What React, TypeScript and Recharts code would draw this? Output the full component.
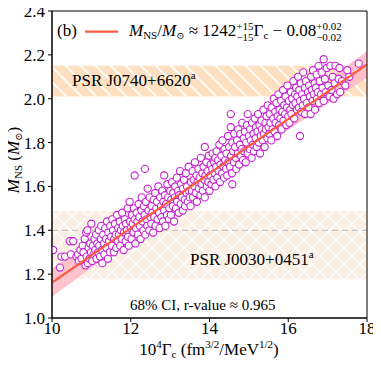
import React from "react";
import {
  ComposedChart,
  XAxis,
  YAxis,
  Scatter,
  Line,
  Area,
  ReferenceArea,
  ReferenceLine,
} from "recharts";

// ---------- data ----------
const xTicks = [10, 12, 14, 16, 18];
const yTicks = [1.0, 1.2, 1.4, 1.6, 1.8, 2.0, 2.2, 2.4];

// fit line  M = 1242 Γc − 0.08  (Γc in 1e-4 units)
const fitGamma = [10, 18];
const fitMass = [1.162, 2.156];

// 68% confidence band
const bandGamma = [10, 12, 14, 16, 18];
const bandLow = [1.097, 1.36, 1.614, 1.857, 2.096];
const bandHigh = [1.227, 1.46, 1.704, 1.957, 2.216];

// pulsar constraints
const psrJ0740 = [2.01, 2.15];
const psrJ0030 = [1.177, 1.488];
const canonicalMass = 1.4;

// scatter points [10^4 Γc, M_NS]
const scatterPoints: [number, number][] = [
  [10.03, 1.31], [10.2, 1.23], [10.24, 1.28], [10.33, 1.28], [10.45, 1.35], [10.48, 1.29], [10.54, 1.35],
  [10.62, 1.28], [10.66, 1.29], [10.68, 1.26], [10.72, 1.31], [10.75, 1.27], [10.78, 1.33], [10.8, 1.3],
  [10.83, 1.36], [10.85, 1.24], [10.87, 1.39], [10.88, 1.28], [10.9, 1.4], [10.91, 1.25], [10.93, 1.32],
  [10.95, 1.27], [10.97, 1.34], [10.99, 1.3], [11.0, 1.43],
  [11.02, 1.26], [11.04, 1.33], [11.06, 1.29], [11.08, 1.36], [11.1, 1.31], [11.12, 1.38], [11.13, 1.27],
  [11.15, 1.34], [11.17, 1.3], [11.19, 1.4], [11.2, 1.33], [11.22, 1.28], [11.24, 1.36], [11.25, 1.42],
  [11.27, 1.31], [11.28, 1.25], [11.3, 1.38], [11.32, 1.34], [11.33, 1.29], [11.35, 1.41], [11.37, 1.36],
  [11.38, 1.32], [11.4, 1.44], [11.42, 1.27], [11.43, 1.39], [11.45, 1.35], [11.47, 1.3], [11.48, 1.42], [11.5, 1.37],
  [11.52, 1.33], [11.53, 1.45], [11.55, 1.4], [11.57, 1.3], [11.58, 1.36], [11.6, 1.43], [11.62, 1.38],
  [11.63, 1.32], [11.65, 1.47], [11.67, 1.35], [11.68, 1.41], [11.7, 1.38], [11.72, 1.44], [11.73, 1.33],
  [11.75, 1.4], [11.77, 1.36], [11.78, 1.48], [11.8, 1.42], [11.82, 1.31], [11.83, 1.39], [11.85, 1.45],
  [11.87, 1.35], [11.88, 1.43], [11.9, 1.4], [11.92, 1.5], [11.93, 1.37], [11.95, 1.33], [11.97, 1.53],
  [11.98, 1.44], [12.0, 1.41],
  [12.02, 1.36], [12.03, 1.47], [12.05, 1.43], [12.07, 1.39], [12.08, 1.5], [12.1, 1.65], [12.1, 1.45],
  [12.12, 1.34], [12.13, 1.41], [12.15, 1.48], [12.17, 1.44], [12.18, 1.38], [12.2, 1.52], [12.22, 1.46],
  [12.23, 1.42], [12.25, 1.36], [12.27, 1.49], [12.28, 1.55], [12.3, 1.44], [12.32, 1.4], [12.33, 1.51],
  [12.35, 1.47], [12.36, 1.68], [12.37, 1.38], [12.38, 1.53], [12.4, 1.45], [12.42, 1.42], [12.43, 1.59],
  [12.45, 1.49], [12.47, 1.4], [12.48, 1.55], [12.5, 1.46],
  [12.52, 1.43], [12.53, 1.51], [12.55, 1.48], [12.57, 1.39], [12.58, 1.54], [12.6, 1.46], [12.62, 1.57],
  [12.63, 1.42], [12.65, 1.5], [12.67, 1.53], [12.68, 1.45], [12.7, 1.6], [12.72, 1.48], [12.73, 1.41],
  [12.75, 1.55], [12.77, 1.51], [12.78, 1.46], [12.8, 1.58], [12.82, 1.44], [12.83, 1.53], [12.85, 1.65],
  [12.85, 1.49], [12.87, 1.56], [12.88, 1.42], [12.9, 1.52], [12.92, 1.47], [12.93, 1.61], [12.95, 1.55],
  [12.97, 1.45], [12.98, 1.5], [13.0, 1.58],
  [13.02, 1.47], [13.03, 1.54], [13.05, 1.62], [13.07, 1.51], [13.08, 1.57], [13.1, 1.44], [13.12, 1.55],
  [13.13, 1.6], [13.15, 1.5], [13.17, 1.64], [13.18, 1.53], [13.2, 1.58], [13.22, 1.48], [13.23, 1.56],
  [13.25, 1.67], [13.27, 1.52], [13.28, 1.61], [13.3, 1.55], [13.32, 1.49], [13.33, 1.59], [13.35, 1.63],
  [13.37, 1.54], [13.38, 1.51], [13.4, 1.66], [13.42, 1.57], [13.43, 1.6], [13.45, 1.53], [13.47, 1.69],
  [13.48, 1.58], [13.5, 1.55],
  [13.52, 1.51], [13.53, 1.62], [13.55, 1.58], [13.57, 1.67], [13.58, 1.55], [13.6, 1.63], [13.62, 1.6],
  [13.63, 1.71], [13.65, 1.57], [13.67, 1.65], [13.68, 1.53], [13.7, 1.62], [13.72, 1.68], [13.73, 1.59],
  [13.75, 1.64], [13.77, 1.56], [13.78, 1.73], [13.8, 1.61], [13.82, 1.66], [13.83, 1.58], [13.85, 1.69],
  [13.87, 1.63], [13.88, 1.78], [13.88, 1.55], [13.9, 1.65], [13.92, 1.71], [13.93, 1.6], [13.95, 1.67],
  [13.97, 1.62], [13.98, 1.74], [14.0, 1.58],
  [14.02, 1.65], [14.03, 1.7], [14.05, 1.61], [14.07, 1.68], [14.08, 1.75], [14.1, 1.63], [14.12, 1.71],
  [14.13, 1.66], [14.15, 1.73], [14.15, 1.6], [14.17, 1.69], [14.18, 1.76], [14.2, 1.64], [14.22, 1.72],
  [14.23, 1.67], [14.25, 1.79], [14.27, 1.62], [14.28, 1.7], [14.3, 1.74], [14.32, 1.66], [14.33, 1.81],
  [14.35, 1.69], [14.37, 1.64], [14.38, 1.77], [14.4, 1.72], [14.42, 1.68], [14.43, 1.75], [14.45, 1.65],
  [14.47, 1.83], [14.48, 1.71], [14.5, 1.78],
  [14.52, 1.69], [14.54, 1.93], [14.54, 1.87], [14.55, 1.74], [14.57, 1.66], [14.58, 1.61], [14.58, 1.8],
  [14.6, 1.76], [14.62, 1.71], [14.63, 1.84], [14.65, 1.78], [14.67, 1.73], [14.68, 1.68], [14.7, 1.81],
  [14.72, 1.75], [14.73, 1.86], [14.75, 1.7], [14.77, 1.79], [14.78, 1.84], [14.8, 1.74], [14.82, 1.77],
  [14.83, 1.89], [14.85, 1.72], [14.87, 1.82], [14.88, 1.76], [14.9, 1.85], [14.92, 1.71], [14.93, 1.8],
  [14.95, 1.88], [14.97, 1.93], [14.97, 1.75], [15.0, 1.83],
  [15.02, 1.77], [15.03, 1.86], [15.05, 1.81], [15.07, 1.73], [15.08, 1.89], [15.1, 1.79], [15.12, 1.84],
  [15.13, 1.76], [15.15, 1.91], [15.17, 1.82], [15.18, 1.87], [15.2, 1.78], [15.22, 1.85], [15.23, 1.93],
  [15.25, 1.8], [15.27, 1.88], [15.28, 1.75], [15.3, 1.83], [15.32, 1.9], [15.33, 1.86], [15.35, 1.81],
  [15.37, 1.95], [15.38, 1.84], [15.4, 1.78], [15.42, 1.89], [15.43, 1.86], [15.45, 1.92], [15.47, 1.82],
  [15.48, 1.97], [15.5, 1.87],
  [15.52, 1.84], [15.53, 1.93], [15.55, 1.89], [15.57, 1.81], [15.58, 1.96], [15.6, 1.86], [15.62, 1.91],
  [15.63, 2.0], [15.65, 1.85], [15.67, 1.94], [15.68, 1.89], [15.7, 1.98], [15.72, 1.83], [15.73, 1.92],
  [15.75, 2.02], [15.77, 1.88], [15.78, 1.95], [15.8, 1.91], [15.82, 1.99], [15.83, 1.86], [15.85, 1.94],
  [15.87, 2.04], [15.88, 1.9], [15.9, 1.97], [15.92, 1.93], [15.93, 2.01], [15.95, 1.88], [15.97, 1.96],
  [15.98, 2.06], [16.0, 1.92],
  [16.02, 1.99], [16.03, 1.89], [16.05, 1.95], [16.07, 2.03], [16.08, 1.93], [16.1, 2.0], [16.12, 1.97],
  [16.13, 2.08], [16.15, 1.91], [16.17, 2.02], [16.18, 1.98], [16.2, 2.05], [16.22, 1.95], [16.23, 2.01],
  [16.25, 2.1], [16.27, 1.96], [16.28, 2.04], [16.3, 1.83], [16.3, 1.99], [16.32, 2.07], [16.33, 1.94],
  [16.35, 2.02], [16.37, 1.97], [16.38, 2.12], [16.4, 2.0], [16.42, 2.05], [16.43, 1.93], [16.45, 2.08],
  [16.47, 1.98], [16.5, 2.03],
  [16.52, 1.96], [16.53, 2.06], [16.55, 2.01], [16.57, 1.93], [16.58, 2.1], [16.6, 2.04], [16.62, 1.99],
  [16.63, 2.13], [16.65, 2.02], [16.67, 2.07], [16.68, 1.95], [16.7, 2.05], [16.72, 2.11], [16.73, 2.0],
  [16.75, 2.03], [16.77, 2.15], [16.78, 1.98], [16.8, 2.08], [16.83, 2.02], [16.85, 2.12], [16.87, 2.05],
  [16.9, 2.18], [16.9, 1.99], [16.93, 2.09], [16.95, 2.03], [16.98, 2.14],
  [17.02, 2.06], [17.05, 2.01], [17.07, 2.15], [17.1, 2.04], [17.13, 2.1], [17.15, 2.0], [17.18, 2.07],
  [17.2, 2.15], [17.24, 2.02], [17.28, 2.09], [17.3, 2.14], [17.32, 2.03], [17.36, 2.08], [17.45, 2.06],
  [17.5, 2.13], [17.55, 2.1], [17.79, 2.16],
];

// ---------- derived tables ----------
const scatterData = scatterPoints.map(([x, y]) => ({ x, y }));
const fitData = fitGamma.map((x, i) => ({ x, y: fitMass[i] }));
const bandData = bandGamma.map((x, i) => ({ x, range: [bandLow[i], bandHigh[i]] }));

const FONT = "'Liberation Serif', 'DejaVu Serif', serif";
const MAGENTA = "#c51fd2";
const FIT = "#fa5c43";
const W = 381;
const H = 368;

const Circle = (props: any) => {
  const { cx, cy } = props;
  if (cx == null || cy == null) return null;
  return <circle cx={cx} cy={cy} r={3.6} fill="#fff" stroke={MAGENTA} strokeWidth={1.1} />;
};

const Annotations = () => (
  <svg
    width={W}
    height={H}
    style={{ position: "absolute", left: 0, top: 0, pointerEvents: "none" }}
  >
    <g fontFamily={FONT} fill="#000">
      {/* legend */}
      <text x={57} y={36} fontSize={17}>(b)</text>
      <line x1={85} x2={118} y1={31.7} y2={31.7} stroke={FIT} strokeWidth={2.2} />
      <text x={129} y={36} fontSize={17}>
        <tspan fontStyle="italic">M</tspan>
        <tspan fontSize={11} dy={3}>NS</tspan>
        <tspan dy={-3}>/</tspan>
        <tspan fontStyle="italic">M</tspan>
        <tspan fontSize={10} dy={3}>⊙</tspan>
        <tspan dy={-3}> ≈ 1242</tspan>
        <tspan fontSize={11} dy={-6}>+15</tspan>
        <tspan fontSize={11} dx={-17.2} dy={11}>−15</tspan>
        <tspan dy={-5}>Γ</tspan>
        <tspan fontSize={11} dy={3}>c</tspan>
        <tspan dy={-3}> − 0.08</tspan>
        <tspan fontSize={11} dy={-6}>+0.02</tspan>
        <tspan fontSize={11} dx={-25.5} dy={11}>−0.02</tspan>
      </text>
      {/* pulsar labels */}
      <text x={72} y={86} fontSize={17}>
        PSR J0740+6620<tspan fontSize={11} dy={-7}>a</tspan>
      </text>
      <text x={190} y={265} fontSize={17}>
        PSR J0030+0451<tspan fontSize={11} dy={-7}>a</tspan>
      </text>
      <text x={130} y={310} fontSize={15}>68% CI, r-value ≈ 0.965</text>
      {/* axis titles */}
      <text x={209} y={355} fontSize={17} textAnchor="middle">
        10<tspan fontSize={11} dy={-7}>4</tspan>
        <tspan dy={7}>Γ</tspan>
        <tspan fontSize={11} dy={3}>c</tspan>
        <tspan dy={-3}> (fm</tspan>
        <tspan fontSize={11} dy={-7}>3/2</tspan>
        <tspan dy={7}>/MeV</tspan>
        <tspan fontSize={11} dy={-7}>1/2</tspan>
        <tspan dy={7}>)</tspan>
      </text>
      <text x={-160} y={19} fontSize={17} textAnchor="middle" transform="rotate(-90)">
        <tspan fontStyle="italic">M</tspan>
        <tspan fontSize={11} dy={3}>NS</tspan>
        <tspan dy={-3}> (</tspan>
        <tspan fontStyle="italic">M</tspan>
        <tspan fontSize={10} dy={3}>⊙</tspan>
        <tspan dy={-3}>)</tspan>
      </text>
    </g>
  </svg>
);

export default function App() {
  return (
    <div style={{ position: "relative", width: W, height: H, margin: "-8px 0 0 -8px" }}>
      <ComposedChart
        width={W}
        height={H}
        margin={{ top: 11, right: 14, bottom: 0, left: 8 }}
      >
        <defs>
          <pattern id="hatchA" width={15} height={15} patternUnits="userSpaceOnUse">
            <rect width={15} height={15} fill="#fee0c0" />
            <path d="M-4,11 L4,19 M0,0 L15,15 M11,-4 L19,4" stroke="#fff" strokeWidth={1.8} />
          </pattern>
          <pattern id="hatchB" width={16} height={16} patternUnits="userSpaceOnUse">
            <rect width={16} height={16} fill="#fbefe3" />
            <path
              d="M-4,12 L4,20 M0,0 L16,16 M12,-4 L20,4 M-4,4 L4,-4 M0,16 L16,0 M12,20 L20,12"
              stroke="#fff"
              strokeWidth={1.5}
            />
          </pattern>
        </defs>
        <XAxis
          type="number"
          dataKey="x"
          domain={[10, 18]}
          ticks={xTicks}
          allowDataOverflow
          height={50}
          tickSize={4}
          tickMargin={0}
          stroke="#000"
          tickLine={{ stroke: "#000" }}
          tick={{ fontSize: 17, fill: "#000", fontFamily: FONT }}
        />
        <YAxis
          type="number"
          dataKey="y"
          domain={[1.0, 2.4]}
          ticks={yTicks}
          allowDataOverflow
          width={44}
          tickSize={4}
          tickMargin={3}
          stroke="#000"
          tickLine={{ stroke: "#000" }}
          tickFormatter={(v: number) => v.toFixed(1)}
          tick={{ fontSize: 17, fill: "#000", fontFamily: FONT }}
        />
        <ReferenceArea
          x1={10} x2={18} y1={psrJ0740[0]} y2={psrJ0740[1]}
          fill="url(#hatchA)" fillOpacity={1} stroke="none" zIndex={10}
        />
        <ReferenceArea
          x1={10} x2={18} y1={psrJ0030[0]} y2={psrJ0030[1]}
          fill="url(#hatchB)" fillOpacity={1} stroke="none" zIndex={10}
        />
        <ReferenceLine
          y={canonicalMass} stroke="#c4c4c4" strokeDasharray="6 4" strokeWidth={1.2} zIndex={20}
        />
        <Area
          data={bandData}
          dataKey="range"
          type="linear"
          fill="#ffb9c6"
          fillOpacity={0.85}
          stroke="none"
          isAnimationActive={false}
          activeDot={false}
          zIndex={30}
        />
        <Scatter data={scatterData} dataKey="y" shape={Circle} isAnimationActive={false} zIndex={600} />
        <Line
          data={fitData}
          dataKey="y"
          type="linear"
          stroke={FIT}
          strokeWidth={2.2}
          dot={false}
          activeDot={false}
          isAnimationActive={false}
          zIndex={700}
        />
        <ReferenceArea
          x1={10} x2={18} y1={1.0} y2={2.4}
          fill="none" fillOpacity={0} stroke="#000" strokeWidth={1} zIndex={800}
        />
      </ComposedChart>
      <Annotations />
    </div>
  );
}
